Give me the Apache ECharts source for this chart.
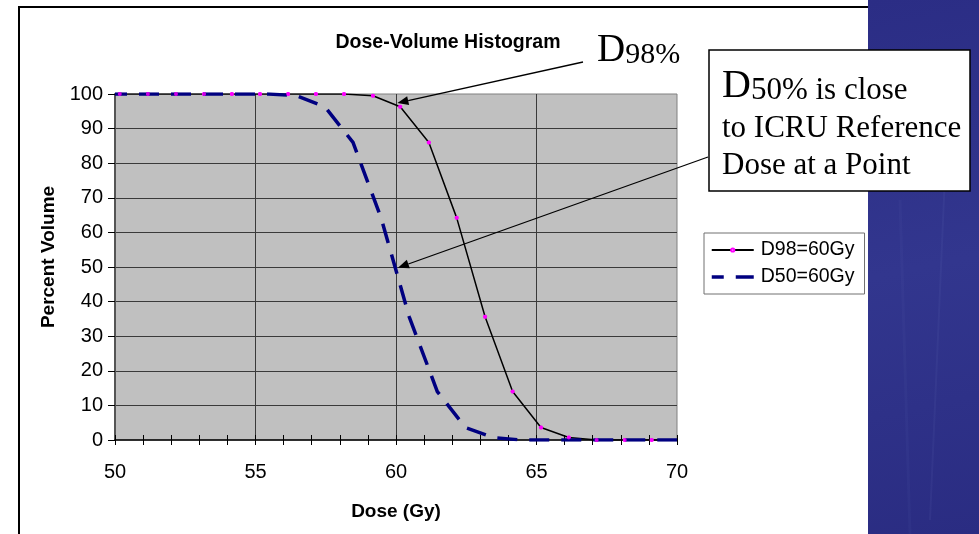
<!DOCTYPE html>
<html>
<head>
<meta charset="utf-8">
<script src="https://cdn.jsdelivr.net/npm/echarts@6/dist/echarts.min.js"></script>
<style>
html,body{margin:0;padding:0;background:#fff;}
#c{width:979px;height:534px;}
</style>
</head>
<body>
<div id="c"></div>
<script>
// ---- data ----
const titleText = 'Dose-Volume Histogram';
const xAxisName = 'Dose (Gy)';
const yAxisName = 'Percent Volume';
const seriesNames = ['D98=60Gy', 'D50=60Gy'];
const xTicks = [50, 55, 60, 65, 70];
const yTicks = [0, 10, 20, 30, 40, 50, 60, 70, 80, 90, 100];

const doseD98 = [50, 50.17, 51.17, 52.17, 53.17, 54.16, 55.16, 56.16, 57.15, 58.15, 59.18, 60.15, 61.17, 62.16, 63.17, 64.15, 65.16, 66.15, 67.14, 68.14, 69.1, 70];
const volD98  = [100, 100, 100, 100, 100, 100, 100, 100, 100, 100, 99.5, 96.3, 86.0, 64.2, 35.6, 14.0, 3.6, 0.7, 0, 0, 0, 0];
const markedD98 = [false, true, true, true, true, true, true, true, true, true, true, true, true, true, true, true, true, true, true, true, true, false];

const doseD50 = [50, 50.47, 51.47, 52.47, 53.47, 54.47, 55.47, 56.47, 57.47, 58.47, 59.47, 60.47, 61.47, 62.47, 63.47, 64.47, 65.47, 66.47, 67.47, 68.47, 69.47, 70];
const volD50  = [100, 100, 100, 100, 100, 100, 100, 99.5, 96.3, 86.0, 64.2, 35.6, 14.0, 3.6, 0.7, 0, 0, 0, 0, 0, 0, 0];

// ---- chart ----
const chart = echarts.init(document.getElementById('c'), null, {renderer: 'canvas'});
const SANS = '"Liberation Sans", Arial, sans-serif';
const SERIF = '"Liberation Serif", "Times New Roman", serif';

const d98Line = doseD98.map((d, i) => ({value: [d, volD98[i]], symbol: markedD98[i] ? 'circle' : 'none'}));
const d98Marks = doseD98.map((d, i) => [d, volD98[i]]).filter((p, i) => markedD98[i]);
const d50Line = doseD50.map((d, i) => [d, volD50[i]]);

const xMin = xTicks[0], xMax = xTicks[xTicks.length - 1];
const yMin = yTicks[0], yMax = yTicks[yTicks.length - 1];

const baseX = {type: 'value', min: xMin, max: xMax, gridIndex: 0};

const option = {
  animation: false,
  backgroundColor: '#ffffff',
  title: {
    text: titleText, left: 443, top: 28, textAlign: 'center',
    textStyle: {fontFamily: SANS, fontWeight: 'bold', fontSize: 19.5, color: '#000'}
  },
  grid: {
    left: 115, top: 94, right: 302, bottom: 94,
    show: true, backgroundColor: '#c0c0c0', borderColor: '#808080', borderWidth: 1
  },
  legend: {
    data: [
      {name: seriesNames[0]},
      {name: seriesNames[1], itemStyle: {opacity: 0}, lineStyle: {width: 3.5, type: [20, 12], color: '#000080'}}
    ],
    orient: 'vertical',
    left: 704, top: 233,
    backgroundColor: '#ffffff',
    borderColor: '#707070', borderWidth: 1,
    padding: [6, 10, 6, 6],
    itemWidth: 42, itemHeight: 4, itemGap: 5,
    textStyle: {fontFamily: SANS, fontSize: 19.5, color: '#000', lineHeight: 22, padding: [0, 0, 0, 2]}
  },
  xAxis: [
    Object.assign({}, baseX, {
      interval: 5,
      name: xAxisName, nameLocation: 'middle', nameGap: 62,
      nameTextStyle: {fontFamily: SANS, fontWeight: 'bold', fontSize: 19, color: '#000'},
      axisLine: {show: true, lineStyle: {color: '#000', width: 1.5}},
      axisTick: {show: false},
      axisLabel: {fontFamily: SANS, fontSize: 20, color: '#000', margin: 22},
      splitLine: {show: true, showMinLine: false, showMaxLine: false, lineStyle: {color: '#3a3a3a', width: 1}}
    }),
    Object.assign({}, baseX, {
      interval: 1, position: 'bottom',
      axisLine: {show: false}, axisLabel: {show: false}, splitLine: {show: false},
      axisTick: {show: true, inside: false, length: 5, lineStyle: {color: '#000', width: 1}}
    }),
    Object.assign({}, baseX, {
      interval: 1, position: 'bottom',
      axisLine: {show: false}, axisLabel: {show: false}, splitLine: {show: false},
      axisTick: {show: true, inside: true, length: 5, lineStyle: {color: '#000', width: 1}}
    })
  ],
  yAxis: {
    type: 'value', min: yMin, max: yMax, interval: 10,
    name: yAxisName, nameLocation: 'middle', nameGap: 57, nameRotate: 90,
    nameTextStyle: {fontFamily: SANS, fontWeight: 'bold', fontSize: 19, color: '#000', padding: [0, 0, 0, 20]},
    axisLine: {show: true, lineStyle: {color: '#555', width: 2}},
    axisTick: {show: true, inside: false, length: 7, lineStyle: {color: '#000', width: 1}},
    axisLabel: {fontFamily: SANS, fontSize: 20, color: '#000', margin: 12},
    splitLine: {show: true, showMinLine: false, showMaxLine: false, lineStyle: {color: '#3a3a3a', width: 1}}
  },
  series: [
    {
      name: seriesNames[0], type: 'line', xAxisIndex: 0, yAxisIndex: 0,
      data: d98Line, z: 2,
      symbolSize: 4, showSymbol: true,
      itemStyle: {color: '#ff00ff', borderWidth: 0},
      lineStyle: {color: '#000000', width: 1.5},
      emphasis: {disabled: true}
    },
    {
      name: seriesNames[1], type: 'line', xAxisIndex: 0, yAxisIndex: 0,
      data: d50Line, z: 3,
      symbol: 'none',
      itemStyle: {color: '#000080'},
      lineStyle: {color: '#000080', width: 3.5, type: [20, 12], dashOffset: 8, cap: 'butt'},
      emphasis: {disabled: true}
    },
    {
      type: 'scatter', xAxisIndex: 0, yAxisIndex: 0,
      data: d98Marks, z: 4,
      symbol: 'circle', symbolSize: 4,
      itemStyle: {color: '#ff00ff', borderWidth: 0},
      emphasis: {disabled: true}, silent: true
    }
  ]
};
chart.setOption(option);

// ---- annotations (graphic) ----
function arrow(tail, tip, id) {
  const dx = tip[0] - tail[0], dy = tip[1] - tail[1];
  const L = Math.sqrt(dx * dx + dy * dy);
  const ux = dx / L, uy = dy / L;
  const len = 11, hw = 4.5;
  const bx = tip[0] - ux * len, by = tip[1] - uy * len;
  return [
    {type: 'line', id: id + 'l', z: 50, shape: {x1: tail[0], y1: tail[1], x2: bx, y2: by},
     style: {stroke: '#000', lineWidth: 1.3}},
    {type: 'polygon', id: id + 'h', z: 50,
     shape: {points: [[tip[0], tip[1]], [bx - uy * hw, by + ux * hw], [bx + uy * hw, by - ux * hw]]},
     style: {fill: '#000'}}
  ];
}
const tip98 = chart.convertToPixel({xAxisIndex: 0, yAxisIndex: 0}, [60.05, 97.4]);
const tip50 = chart.convertToPixel({xAxisIndex: 0, yAxisIndex: 0}, [60.07, 49.8]);

const graphics = [
  // outer frame
  {type: 'rect', z: -10, shape: {x: 19, y: 7, width: 860, height: 560},
   style: {fill: 'none', stroke: '#000', lineWidth: 2}},
  // blue side panel
  {type: 'rect', z: 40, shape: {x: 868, y: 0, width: 111, height: 534},
   style: {fill: new echarts.graphic.LinearGradient(0, 0, 1, 1, [
     {offset: 0, color: '#2b2d85'}, {offset: 0.5, color: '#32368e'}, {offset: 1, color: '#2a2c82'}])}},
  {type: 'line', z: 41, shape: {x1: 950, y1: 60, x2: 930, y2: 520}, style: {stroke: 'rgba(120,130,200,0.09)', lineWidth: 2}},
  {type: 'line', z: 41, shape: {x1: 900, y1: 200, x2: 910, y2: 534}, style: {stroke: 'rgba(120,130,200,0.06)', lineWidth: 3}},
  // D98% label
  {type: 'text', z: 60, x: 597, y: 70,
   style: {text: '{a|D}{b|98%}', verticalAlign: 'bottom', align: 'left',
     rich: {a: {fontFamily: SERIF, fontSize: 39, fill: '#000', verticalAlign: 'bottom'},
            b: {fontFamily: SERIF, fontSize: 30, fill: '#000', verticalAlign: 'bottom'}}}},
  // D50 box
  {type: 'rect', z: 60, shape: {x: 709, y: 50, width: 261, height: 141},
   style: {fill: '#fff', stroke: '#000', lineWidth: 1.5}},
  {type: 'text', z: 61, x: 722, y: 106,
   style: {text: '{a|D}{b|50% is close}', verticalAlign: 'bottom', align: 'left',
     rich: {a: {fontFamily: SERIF, fontSize: 40, fill: '#000', verticalAlign: 'bottom'},
            b: {fontFamily: SERIF, fontSize: 31, fill: '#000', verticalAlign: 'bottom'}}}},
  {type: 'text', z: 61, x: 722, y: 129,
   style: {text: 'to ICRU Reference', fontFamily: SERIF, fontSize: 31, fill: '#000', verticalAlign: 'middle'}},
  {type: 'text', z: 61, x: 722, y: 166,
   style: {text: 'Dose at a Point', fontFamily: SERIF, fontSize: 31, fill: '#000', verticalAlign: 'middle'}}
].concat(arrow([583, 62], tip98, 'a98'), arrow([708, 157], tip50, 'a50'));

chart.setOption({graphic: graphics});
</script>
</body>
</html>
